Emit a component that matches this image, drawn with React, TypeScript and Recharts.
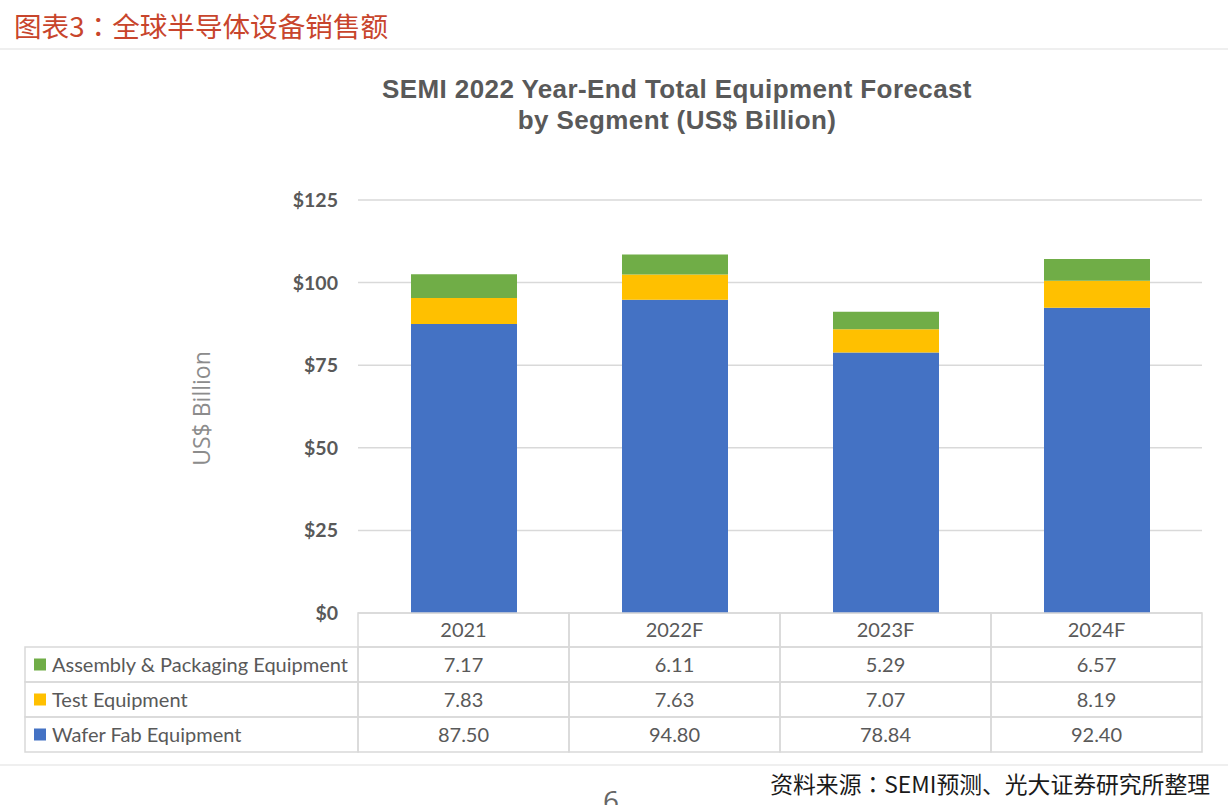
import React from 'react';
import { BarChart, Bar, XAxis, YAxis, CartesianGrid } from 'recharts';

const categories = ['2021', '2022F', '2023F', '2024F'];
const waferFab = [87.5, 94.8, 78.84, 92.4];
const testEquipment = [7.83, 7.63, 7.07, 8.19];
const assemblyPackaging = [7.17, 6.11, 5.29, 6.57];
const yTicks = [0, 25, 50, 75, 100, 125];

const seriesRows = [
  { key: 'assembly', name: 'Assembly & Packaging Equipment', color: '#70AD47', values: assemblyPackaging },
  { key: 'test', name: 'Test Equipment', color: '#FFC000', values: testEquipment },
  { key: 'wafer', name: 'Wafer Fab Equipment', color: '#4472C4', values: waferFab },
];

const data = categories.map((c, i) => ({
  category: c,
  wafer: waferFab[i],
  test: testEquipment[i],
  assembly: assemblyPackaging[i],
}));

const W = 1228;
const H = 805;
const PLOT_LEFT = 358;
const PLOT_RIGHT = 1202;
const BAND = (PLOT_RIGHT - PLOT_LEFT) / categories.length;
const LEGEND_COL = 333;
const HEADER_H = 34;
const ROW_H = 35;
const BORDER = '#d9d9d9';
const TEXT = '#595959';
const TABLE_FONT = 'Lato, "Noto Sans", sans-serif';
const TABLE_FS = 20;

const TableTick = (props: any) => {
  const { x, y, payload, index } = props;
  const left = x - BAND / 2;
  const cells: React.ReactNode[] = [];
  cells.push(
    <rect key="h" x={left} y={y} width={BAND} height={HEADER_H} fill="none" stroke={BORDER} strokeWidth={1.5} />
  );
  cells.push(
    <text key="ht" x={x} y={y + HEADER_H / 2 + 7} textAnchor="middle" fontSize={TABLE_FS} fill={TEXT} fontFamily={TABLE_FONT}>
      {payload.value}
    </text>
  );
  seriesRows.forEach((s, r) => {
    const top = y + HEADER_H + r * ROW_H;
    cells.push(
      <rect key={'r' + r} x={left} y={top} width={BAND} height={ROW_H} fill="none" stroke={BORDER} strokeWidth={1.5} />
    );
    cells.push(
      <text key={'t' + r} x={x} y={top + ROW_H / 2 + 7} textAnchor="middle" fontSize={TABLE_FS} fill={TEXT} fontFamily={TABLE_FONT}>
        {s.values[index].toFixed(2)}
      </text>
    );
    if (index === 0) {
      const lx = left - LEGEND_COL;
      cells.push(
        <rect key={'l' + r} x={lx} y={top} width={LEGEND_COL} height={ROW_H} fill="none" stroke={BORDER} strokeWidth={1.5} />
      );
      cells.push(
        <rect key={'ls' + r} x={lx + 9} y={top + ROW_H / 2 - 6} width={12} height={12} fill={s.color} />
      );
      cells.push(
        <text key={'lt' + r} x={lx + 27} y={top + ROW_H / 2 + 7} fontSize={TABLE_FS} fill={TEXT} fontFamily={TABLE_FONT}>
          {s.name}
        </text>
      );
    }
  });
  return <g>{cells}</g>;
};

const YTick = (props: any) => {
  const { x, y, payload } = props;
  return (
    <text x={x} y={y + 7} textAnchor="end" fontSize={19.5} fontWeight="bold" fill={TEXT} fontFamily={TABLE_FONT}>
      {'$' + payload.value}
    </text>
  );
};

const colonStyle: React.CSSProperties = { fontFamily: '"Noto Sans CJK JP", "Noto Sans CJK TC", sans-serif' };

export default function App() {
  return (
    <div style={{ position: 'fixed', left: 0, top: 0, width: W, height: H, background: '#fff', overflow: 'hidden' }}>
      <div
        style={{
          position: 'absolute',
          left: 14,
          top: 6,
          fontFamily: '"Noto Sans CJK SC", sans-serif',
          fontSize: 27.6,
          color: '#c8452c',
          lineHeight: '38px',
          whiteSpace: 'nowrap',
        }}
      >
        图表3<span style={colonStyle}>：</span>全球半导体设备销售额
      </div>
      <div style={{ position: 'absolute', left: 0, top: 48, width: W, height: 2, background: '#efefef' }} />
      <div
        style={{
          position: 'absolute',
          left: 327,
          width: 700,
          top: 74,
          textAlign: 'center',
          fontFamily: '"Liberation Sans", Arial, sans-serif',
          fontWeight: 'bold',
          fontSize: 26,
          letterSpacing: 0.4,
          lineHeight: '31px',
          color: TEXT,
        }}
      >
        SEMI 2022 Year-End Total Equipment Forecast
        <br />
        by Segment (US$ Billion)
      </div>
      <div style={{ position: 'absolute', left: 0, top: 0 }}>
        <BarChart
          width={W}
          height={H}
          data={data}
          margin={{ top: 200, right: W - PLOT_RIGHT, bottom: 52, left: PLOT_LEFT - 60 }}
        >
          <CartesianGrid horizontal vertical={false} stroke={BORDER} strokeWidth={1.5} />
          <XAxis
            dataKey="category"
            height={140}
            axisLine={false}
            tickLine={false}
            tickSize={0}
            tickMargin={0}
            tick={<TableTick />}
            interval={0}
          />
          <YAxis
            width={60}
            domain={[0, 125]}
            ticks={yTicks}
            axisLine={false}
            tickLine={false}
            tickSize={0}
            tickMargin={20}
            tick={<YTick />}
            label={{
              value: 'US$ Billion',
              angle: -90,
              position: 'insideLeft',
              offset: 0,
              dx: -96,
              dy: 2,
              style: { textAnchor: 'middle', fontSize: 23, fill: '#8c8c8c', fontFamily: '"Open Sans", sans-serif' },
            }}
          />
          <Bar dataKey="wafer" stackId="a" fill="#4472C4" barSize={106} isAnimationActive={false} />
          <Bar dataKey="test" stackId="a" fill="#FFC000" barSize={106} isAnimationActive={false} />
          <Bar dataKey="assembly" stackId="a" fill="#70AD47" barSize={106} isAnimationActive={false} />
        </BarChart>
      </div>
      <div style={{ position: 'absolute', left: 0, top: 764, width: W, height: 2, background: '#efefef' }} />
      <div
        style={{
          position: 'absolute',
          right: 18,
          top: 768,
          fontFamily: '"Noto Sans CJK SC", sans-serif',
          fontSize: 22.8,
          lineHeight: '32px',
          color: '#1a1a1a',
          whiteSpace: 'nowrap',
        }}
      >
        资料来源<span style={colonStyle}>：</span>SEMI预测、光大证券研究所整理
      </div>
      <div
        style={{
          position: 'absolute',
          left: 603,
          top: 782,
          fontFamily: '"Open Sans", sans-serif',
          fontSize: 28,
          lineHeight: '36px',
          color: '#666',
        }}
      >
        6
      </div>
    </div>
  );
}
